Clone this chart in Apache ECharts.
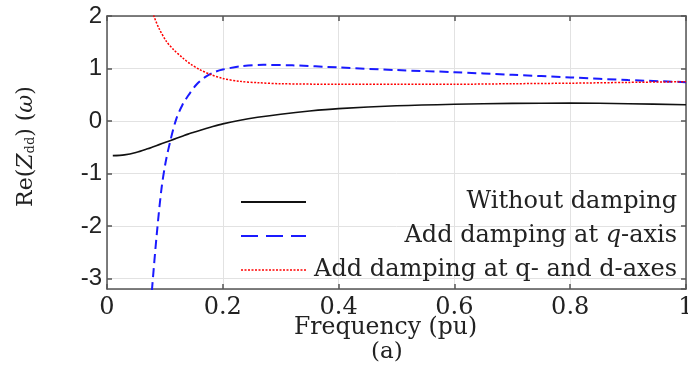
<!DOCTYPE html>
<html>
<head>
<meta charset="utf-8">
<script src="https://cdn.jsdelivr.net/npm/echarts@6/dist/echarts.min.js"></script>
<style>html,body{margin:0;padding:0;background:#fff;}#c{width:688px;height:376px;}</style>
</head>
<body>
<div id="c"></div>
<script>
// ---- data ----
var seriesNames = ['Without damping', 'Add damping at q-axis', 'Add damping at q- and d-axes'];
var xTicks = [0, 0.2, 0.4, 0.6, 0.8, 1];
var yTicks = [-3, -2, -1, 0, 1, 2];

var freqBlack = [0.01, 0.03, 0.05, 0.07, 0.08, 0.09, 0.1, 0.11, 0.12, 0.13, 0.14, 0.15, 0.16, 0.18, 0.2, 0.23, 0.26, 0.3, 0.35, 0.4, 0.5, 0.6, 0.7, 0.8, 0.9, 1.0];
var valBlack  = [-0.66, -0.645, -0.6, -0.53, -0.49, -0.45, -0.41, -0.37, -0.33, -0.29, -0.25, -0.215, -0.18, -0.115, -0.055, 0.015, 0.07, 0.13, 0.19, 0.235, 0.29, 0.32, 0.335, 0.34, 0.33, 0.31];

var freqBlue = [0.07, 0.078, 0.086, 0.094, 0.101, 0.11, 0.12, 0.13, 0.14, 0.155, 0.17, 0.185, 0.2, 0.23, 0.27, 0.32, 0.4, 0.5, 0.6, 0.7, 0.8, 0.9, 1.0];
var valBlue  = [-4.3, -3.17, -2.15, -1.3, -0.8, -0.35, 0.05, 0.30, 0.48, 0.70, 0.84, 0.93, 0.98, 1.04, 1.07, 1.06, 1.02, 0.97, 0.93, 0.88, 0.83, 0.78, 0.74];

var freqRed = [0.07, 0.081, 0.09, 0.103, 0.115, 0.131, 0.145, 0.16, 0.178, 0.2, 0.23, 0.26, 0.3, 0.4, 0.5, 0.6, 0.7, 0.8, 0.9, 1.0];
var valRed  = [2.4, 2.0, 1.76, 1.51, 1.36, 1.2, 1.08, 0.98, 0.89, 0.81, 0.755, 0.73, 0.71, 0.70, 0.70, 0.70, 0.71, 0.72, 0.735, 0.75];

function pairs(xs, ys) { return xs.map(function (x, i) { return [x, ys[i]]; }); }

var serif = 'DejaVu Serif';
var sans = 'Liberation Sans';
var txt = '#222';
var axisCol = '#555';
var gridCol = '#e2e2e2';
var noSymbol = { color: 'rgba(0,0,0,0)', borderColor: 'rgba(0,0,0,0)', borderWidth: 0, opacity: 0 };

var chart = echarts.init(document.getElementById('c'), null, { renderer: 'canvas' });

var richLegend = {
  r: { fontFamily: serif, fontSize: 24, color: txt, align: 'right' },
  i: { fontFamily: serif, fontSize: 24, color: txt, align: 'right', fontStyle: 'italic' }
};

chart.setOption({
  animation: false,
  backgroundColor: '#fff',
  grid: { left: 107, right: 2, top: 16, bottom: 87, containLabel: false, outerBoundsMode: 'none' },
  xAxis: [{
    type: 'value', min: 0, max: 1, interval: 0.2,
    name: 'Frequency (pu)', nameLocation: 'middle', nameGap: 27, nameMoveOverlap: false,
    nameTextStyle: { fontFamily: serif, fontSize: 23.5, color: txt, padding: [0, 22, 0, 0] },
    axisLine: { show: true, onZero: false, lineStyle: { color: axisCol, width: 1.5 } },
    axisTick: { show: true, inside: true, length: 5, lineStyle: { color: axisCol, width: 1.5 } },
    axisLabel: { fontFamily: serif, fontSize: 24, color: txt, margin: 7, hideOverlap: false,
      formatter: function (v) { return xTicks.indexOf(Math.round(v * 10) / 10) >= 0 ? String(Math.round(v * 10) / 10) : ''; } },
    splitLine: { show: true, lineStyle: { color: gridCol, width: 1 } }
  }, {
    type: 'value', min: 0, max: 1, interval: 0.2, position: 'top',
    axisLine: { show: true, onZero: false, lineStyle: { color: axisCol, width: 1.5 } },
    axisTick: { show: true, inside: true, length: 5, lineStyle: { color: axisCol, width: 1.5 } },
    axisLabel: { show: false }, splitLine: { show: false }
  }],
  yAxis: [{
    type: 'value', min: -3.2, max: 2, splitNumber: 5,
    name: '{n|Re(}{it|Z}{sub|dd}{n|) (}{it|ω}{n|)}', nameLocation: 'middle', nameGap: 70, nameMoveOverlap: false,
    nameTextStyle: {
      padding: [0, 0, 0, 12],
      rich: {
        n: { fontFamily: serif, fontSize: 22, color: txt },
        it: { fontFamily: serif, fontSize: 22, color: txt, fontStyle: 'italic' },
        sub: { fontFamily: serif, fontSize: 13, color: txt, verticalAlign: 'bottom', padding: [8, 0, 0, 0] }
      }
    },
    axisLine: { show: true, onZero: false, lineStyle: { color: axisCol, width: 1.5 } },
    axisTick: { show: true, inside: true, length: 5, lineStyle: { color: axisCol, width: 1.5 } },
    axisLabel: { fontFamily: sans, fontSize: 24, color: txt, margin: 5, showMinLabel: false,
      formatter: function (v) { return yTicks.indexOf(Math.round(v * 10) / 10) >= 0 ? String(Math.round(v)) : ''; } },
    splitLine: { show: true, lineStyle: { color: gridCol, width: 1 } }
  }, {
    type: 'value', min: -3.2, max: 2, splitNumber: 5, position: 'right',
    axisLine: { show: true, onZero: false, lineStyle: { color: axisCol, width: 1.5 } },
    axisTick: { show: true, inside: true, length: 5, lineStyle: { color: axisCol, width: 1.5 } },
    axisLabel: { show: false }, splitLine: { show: false }
  }],
  legend: {
    orient: 'vertical', left: 235, top: 185, itemWidth: 65, itemHeight: 22, itemGap: 10,
    selectedMode: false,
    textStyle: { fontFamily: serif, fontSize: 24, color: txt, width: 366, rich: richLegend },
    formatter: function (name) {
      if (name === seriesNames[1]) return '{r|Add damping at }{i|q}{r|-axis}';
      return '{r|' + name + '}';
    },
    data: [
      { name: seriesNames[0], itemStyle: noSymbol, lineStyle: { type: 'solid', width: 2 } },
      { name: seriesNames[1], itemStyle: noSymbol, lineStyle: { type: [17, 8], width: 2 } },
      { name: seriesNames[2], itemStyle: noSymbol, lineStyle: { type: [2, 1.5], width: 1.5 } }
    ]
  },
  graphic: [{
    type: 'text', left: 371, top: 341,
    style: { text: '(a)', font: '23px "DejaVu Serif"', fill: txt }
  }],
  series: [{
    name: seriesNames[0], type: 'line', symbol: 'none', smooth: 0.3, clip: true,
    data: pairs(freqBlack, valBlack),
    lineStyle: { color: '#111', width: 1.6, type: 'solid' }, itemStyle: { color: '#111' }
  }, {
    name: seriesNames[1], type: 'line', symbol: 'none', smooth: 0.3, clip: true,
    data: pairs(freqBlue, valBlue),
    lineStyle: { color: '#1a1aff', width: 2, type: [9, 5] }, itemStyle: { color: '#1a1aff' }
  }, {
    name: seriesNames[2], type: 'line', symbol: 'none', smooth: 0.3, clip: true,
    data: pairs(freqRed, valRed),
    lineStyle: { color: '#ff0000', width: 1.5, type: [2, 1.5] }, itemStyle: { color: '#ff0000' }
  }]
});
</script>
</body>
</html>
